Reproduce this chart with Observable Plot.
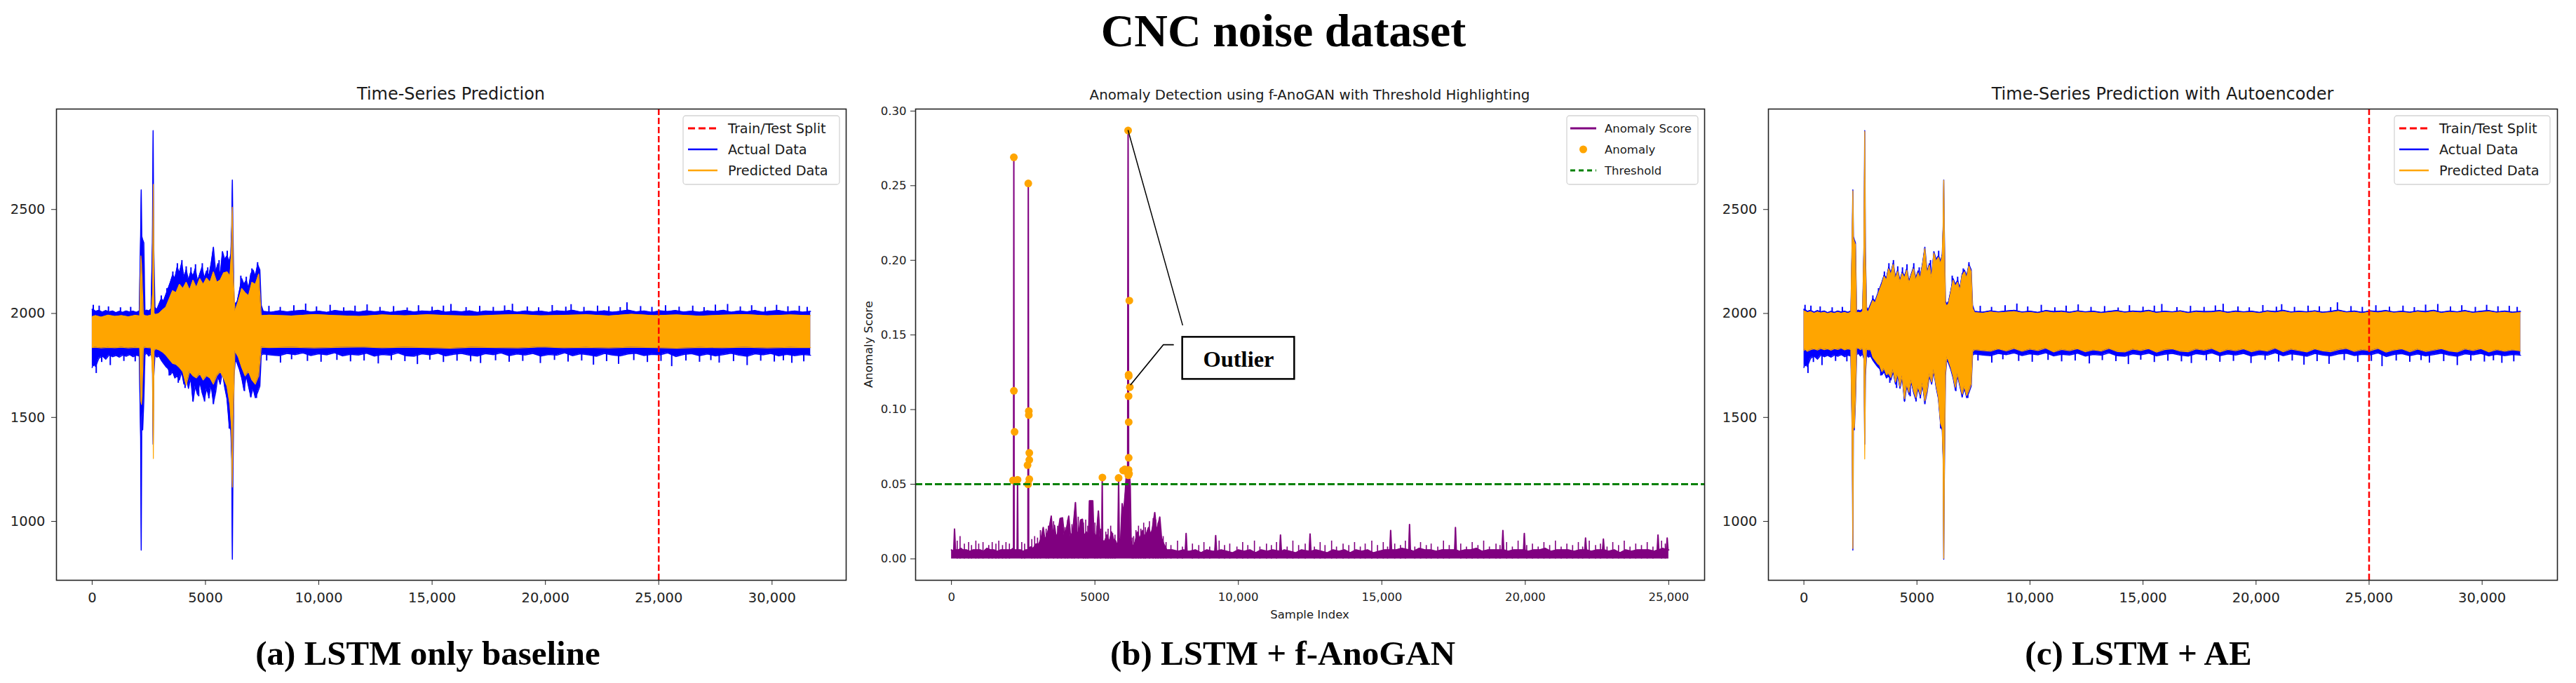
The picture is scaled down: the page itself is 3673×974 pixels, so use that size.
<!DOCTYPE html>
<html>
<head>
<meta charset="utf-8">
<script src="https://cdn.jsdelivr.net/npm/d3@7"></script>
<script src="https://cdn.jsdelivr.net/npm/@observablehq/plot@0.6"></script>
<style>
  html, body { margin: 0; padding: 0; background: #fff; }
  body { width: 3673px; height: 974px; overflow: hidden; position: relative; font-family: "DejaVu Sans", sans-serif; }
  svg.panel { position: absolute; top: 100px; }
  svg.overlay { position: absolute; left: 0; top: 0; pointer-events: none; }
</style>
</head>
<body>
<script>
// ---------------- DATA ----------------
// Actual data envelope (sample index, upper edge, lower edge) — panels (a) and (c)
const actX = [
  0, 60, 150, 300, 450, 600, 750, 900, 1050, 1200,
  1350, 1500, 1650, 1800, 1950, 2080, 2140, 2165, 2190, 2230,
  2280, 2330, 2400, 2500, 2600, 2660, 2690, 2720, 2770, 2850,
  2950, 3050, 3150, 3250, 3350, 3450, 3550, 3650, 3750, 3850,
  3950, 4050, 4150, 4250, 4350, 4450, 4550, 4650, 4750, 4850,
  4950, 5050, 5150, 5250, 5350, 5450, 5550, 5650, 5750, 5850,
  5950, 6050, 6120, 6160, 6186, 6210, 6260, 6320, 6400, 6500,
  6600, 6700, 6800, 6900, 7000, 7100, 7200, 7300, 7400, 7460,
  7550, 7900, 8250, 8600, 8950, 9300, 9650, 10000, 10350, 10700,
  11050, 11400, 11750, 12100, 12450, 12800, 13150, 13500, 13850, 14200,
  14550, 14900, 15250, 15600, 15950, 16300, 16650, 17000, 17350, 17700,
  18050, 18400, 18750, 19100, 19450, 19800, 20150, 20500, 20850, 21200,
  21550, 21900, 22250, 22600, 22950, 23300, 23650, 24000, 24350, 24700,
  25050, 25400, 25750, 26100, 26450, 26800, 27150, 27500, 27850, 28200,
  28550, 28900, 29250, 29600, 29950, 30300, 30650, 31000, 31350, 31700
];
const actHigh = [
  2020, 2018, 2010, 2015, 2006, 2014, 2008, 2012, 2004, 2010,
  2005, 2012, 2007, 2011, 2005, 2012, 2380, 2594, 2370, 2355,
  2340, 2010, 2016, 2012, 2022, 2340, 2879, 2300, 2030, 2018,
  2045, 2071, 2060, 2090, 2120, 2150, 2185, 2170, 2223, 2195,
  2243, 2175, 2210, 2160, 2200, 2180, 2216, 2155, 2190, 2223,
  2170, 2205, 2180, 2240, 2319, 2200, 2240, 2180, 2298, 2260,
  2278, 2250, 2285, 2420, 2642, 2400, 2060, 2045, 2058, 2110,
  2168, 2140, 2160, 2120, 2190, 2209, 2180, 2236, 2210, 2040,
  2010, 2006, 2013, 2008, 2012, 2015, 2007, 2011, 2005, 2014,
  2009, 2012, 2006, 2013, 2008, 2011, 2005, 2010, 2014, 2007,
  2012, 2009, 2015, 2006, 2011, 2008, 2013, 2005, 2012, 2009,
  2010, 2014, 2006, 2012, 2008, 2011, 2005, 2013, 2009, 2015,
  2007, 2011, 2008, 2013, 2006, 2010, 2016, 2008, 2012, 2005,
  2013, 2009, 2014, 2007, 2011, 2006, 2013, 2009, 2015, 2006,
  2012, 2008, 2014, 2006, 2011, 2014, 2007, 2012, 2006, 2010
];
const actLow = [
  1740, 1760, 1745, 1785, 1795, 1780, 1800, 1792, 1798, 1790,
  1800, 1794, 1802, 1792, 1799, 1795, 1400, 862, 1520, 1440,
  1580, 1800, 1810, 1795, 1805, 1780, 1371, 1700, 1800, 1790,
  1795, 1775, 1760, 1745, 1735, 1705, 1720, 1690, 1700, 1680,
  1720, 1660, 1700, 1640, 1690, 1577, 1650, 1610, 1670, 1620,
  1585, 1640, 1600, 1655, 1570, 1620, 1700, 1660, 1720, 1645,
  1590, 1460, 1439, 1300, 818, 1200, 1700, 1780, 1760, 1730,
  1690, 1632, 1700, 1650, 1600, 1640, 1595, 1620, 1650, 1800,
  1805, 1800, 1797, 1808, 1802, 1810, 1798, 1806, 1801, 1811,
  1796, 1804, 1800, 1809, 1795, 1803, 1799, 1810, 1797, 1794,
  1806, 1801, 1809, 1796, 1804, 1808, 1799, 1795, 1807, 1802,
  1810, 1797, 1805, 1800, 1808, 1795, 1803, 1799, 1811, 1797,
  1806, 1801, 1794, 1808, 1800, 1796, 1805, 1809, 1798, 1804,
  1801, 1810, 1793, 1803, 1807, 1797, 1805, 1796, 1802, 1809,
  1799, 1794, 1806, 1801, 1808, 1796, 1804, 1797, 1803, 1799
];
// Thin upward spikes and downward dips of the actual data
const upX = [
  50, 310, 720, 1250, 1700, 3050, 3300, 3560, 3760, 3960,
  4150, 4360, 4560, 4860, 5100, 5600, 5960, 6560, 6800, 7050,
  7300, 7800, 8300, 8900, 9420, 9900, 10500, 11100, 11600, 12132,
  12700, 13300, 13900, 14400, 15000, 15500, 15831, 16500, 17100, 17700,
  18200, 18544, 19200, 19700, 20300, 20900, 21133, 21700, 22300, 22800,
  23300, 23599, 24200, 24700, 25300, 25900, 26500, 27000, 27500, 28038,
  28600, 29100, 29700, 30200, 30700, 31200, 31550
];
const upY = [
  2040, 2036, 2032, 2028, 2030, 2085, 2120, 2200, 2240, 2255,
  2225, 2220, 2235, 2240, 2220, 2255, 2300, 2180, 2175, 2215,
  2245, 2035, 2030, 2038, 2046, 2032, 2040, 2028, 2036, 2042,
  2030, 2034, 2027, 2038, 2031, 2036, 2044, 2029, 2035, 2030,
  2037, 2045, 2032, 2028, 2039, 2031, 2043, 2030, 2036, 2033,
  2029, 2052, 2034, 2030, 2038, 2031, 2036, 2029, 2041, 2044,
  2032, 2038, 2030, 2040, 2033, 2035, 2030
];
const dnX = [
  60, 180, 420, 800, 1400, 1900, 3400, 3800, 4100, 4450,
  4700, 4960, 5150, 5350, 5600, 6050, 6720, 7000, 7250, 7700,
  8310, 8800, 9500, 10100, 10800, 11400, 12000, 12625, 13200, 13800,
  14352, 14900, 15500, 16100, 16700, 17138, 17800, 18400, 19000, 19777,
  20400, 21000, 21600, 22120, 22700, 23229, 23900, 24500, 25100, 25572,
  26200, 26800, 27300, 27668, 28300, 28901, 29500, 30100, 30500, 30873,
  31400
];
const dnY = [
  1745, 1712, 1765, 1750, 1770, 1768, 1700, 1665, 1640, 1577,
  1600, 1575, 1590, 1562, 1680, 1445, 1625, 1595, 1592, 1772,
  1762, 1778, 1770, 1766, 1775, 1768, 1772, 1758, 1774, 1769,
  1755, 1776, 1765, 1771, 1768, 1760, 1773, 1766, 1770, 1760,
  1775, 1767, 1772, 1752, 1769, 1756, 1774, 1765, 1770, 1745,
  1772, 1766, 1774, 1762, 1769, 1750, 1771, 1767, 1773, 1761,
  1768
];

// LSTM predicted envelope — panel (a)
const predX = [
  0, 150, 400, 700, 1000, 1300, 1600, 1900, 2100, 2150,
  2175, 2200, 2260, 2320, 2450, 2600, 2670, 2700, 2730, 2800,
  2950, 3100, 3250, 3400, 3550, 3700, 3850, 4000, 4150, 4300,
  4450, 4600, 4750, 4900, 5050, 5200, 5350, 5500, 5650, 5800,
  5950, 6080, 6150, 6186, 6220, 6300, 6450, 6600, 6750, 6900,
  7050, 7200, 7350, 7460,
  7800, 8800, 9800, 10800, 11800, 12800, 13800, 14800, 15800, 16800,
  17800, 18800, 19800, 20800, 21800, 22800, 23800, 24800, 25800, 26800,
  27800, 28800, 29800, 30800, 31700
];
const predHigh = [
  1985, 1990, 1982, 1992, 1986, 1990, 1984, 1991, 1988, 2277,
  2240, 2181, 1995, 1990, 1988, 1992, 2100, 2621, 2000, 1995,
  2000, 2016, 2030, 2070, 2110, 2100, 2140, 2120, 2150, 2113,
  2160, 2125, 2168, 2140, 2170, 2150, 2200, 2150, 2160, 2195,
  2200, 2180, 2300, 2511, 2200, 2010, 2060, 2120, 2100, 2085,
  2150, 2140, 2190, 1990,
  1992, 1988, 1995, 1990, 1986, 1993, 1989, 1994, 1990, 1987,
  1992, 1995, 1989, 1991, 1994, 1988, 1996, 1990, 1993, 1987,
  1992, 1995, 1989, 1993, 1990
];
const predLow = [
  1836, 1838, 1834, 1837, 1835, 1838, 1834, 1837, 1836, 1580,
  1563, 1600, 1830, 1838, 1836, 1834, 1700, 1302, 1820, 1830,
  1825, 1815, 1800, 1780, 1760, 1755, 1740, 1720, 1655, 1720,
  1700, 1690, 1710, 1680, 1700, 1690, 1660, 1700, 1720, 1690,
  1650, 1560, 1450, 1165, 1500, 1820, 1790, 1740, 1700, 1720,
  1680, 1660, 1700, 1838,
  1836, 1838, 1834, 1837, 1839, 1835, 1838, 1836, 1833, 1838,
  1836, 1834, 1839, 1835, 1837, 1834, 1838, 1836, 1833, 1837,
  1835, 1838, 1834, 1837, 1836
];

// Autoencoder predicted envelope at actX — panel (c)
const aeHigh = [
  2012, 2010, 2004, 2008, 2001, 2007, 2002, 2006, 1999, 2004,
  2000, 2006, 2001, 2005, 2000, 2006, 2370, 2590, 2360, 2345,
  2330, 2002, 2006, 2003, 2010, 2330, 2876, 2290, 2015, 2008,
  2035, 2062, 2050, 2082, 2112, 2140, 2178, 2160, 2215, 2185,
  2236, 2165, 2202, 2150, 2192, 2170, 2208, 2145, 2182, 2215,
  2160, 2196, 2170, 2232, 2312, 2190, 2232, 2170, 2290, 2250,
  2270, 2240, 2277, 2410, 2640, 2390, 2050, 2035, 2048, 2100,
  2160, 2130, 2150, 2110, 2182, 2200, 2170, 2228, 2200, 2025,
  2004, 2001, 2007, 2003, 2006, 2009, 2002, 2005, 2000, 2008,
  2003, 2006, 2001, 2007, 2003, 2005, 2000, 2004, 2008, 2002,
  2006, 2003, 2009, 2001, 2005, 2003, 2007, 2000, 2006, 2003,
  2004, 2008, 2001, 2006, 2003, 2005, 2000, 2007, 2003, 2009,
  2002, 2005, 2003, 2007, 2001, 2004, 2010, 2003, 2006, 2000,
  2007, 2003, 2008, 2002, 2005, 2001, 2007, 2003, 2009, 2001,
  2006, 2003, 2008, 2001, 2005, 2008, 2002, 2006, 2001, 2004
];
const aeLow = [
  1822, 1828, 1818, 1826, 1830, 1824, 1832, 1826, 1830, 1823,
  1831, 1827, 1833, 1825, 1830, 1826, 1410, 870, 1530, 1450,
  1590, 1830, 1834, 1826, 1832, 1790, 1300, 1710, 1828, 1825,
  1826, 1790, 1775, 1760, 1750, 1720, 1735, 1705, 1712, 1692,
  1730, 1670, 1710, 1650, 1700, 1590, 1660, 1620, 1680, 1630,
  1595, 1650, 1610, 1665, 1580, 1630, 1710, 1670, 1730, 1655,
  1600, 1470, 1450, 1310, 822, 1210, 1710, 1792, 1772, 1740,
  1700, 1645, 1710, 1660, 1612, 1650, 1605, 1630, 1660, 1815,
  1826, 1822, 1818, 1830, 1820, 1832, 1818, 1828, 1822, 1833,
  1815, 1827, 1821, 1831, 1816, 1825, 1819, 1832, 1817, 1815,
  1828, 1822, 1831, 1814, 1826, 1830, 1818, 1816, 1829, 1823,
  1832, 1815, 1827, 1821, 1830, 1816, 1825, 1819, 1833, 1816,
  1828, 1822, 1815, 1830, 1820, 1816, 1826, 1832, 1817, 1826,
  1821, 1832, 1814, 1824, 1830, 1816, 1828, 1817, 1823, 1831,
  1819, 1815, 1829, 1822, 1831, 1815, 1826, 1818, 1825, 1820
];
const splitAt = [25000];

// Anomaly score (panel b): filled series
const scoreX = [
  0, 80, 107, 140, 250, 330, 400, 520, 640, 760,
  880, 1000, 1120, 1240, 1360, 1480, 1600, 1720, 1840, 1960,
  2080, 2150, 2165, 2174, 2185, 2250, 2290, 2304, 2318, 2400,
  2500, 2600, 2665, 2678, 2692, 2760, 2850, 2950, 3050, 3130,
  3200, 3260, 3340, 3431, 3478, 3530, 3591, 3650, 3720, 3787,
  3870, 3930, 4000, 4087, 4150, 4230, 4322, 4380, 4450, 4500,
  4565, 4620, 4700, 4780, 4810, 4925, 4960, 5050, 5121, 5180,
  5240, 5255, 5270, 5348, 5420, 5500, 5580, 5650, 5720, 5800,
  5826, 5850, 5900, 5950, 6000, 6060, 6100, 6140, 6157, 6175,
  6200, 6230, 6261, 6320, 6400, 6478, 6560, 6652, 6720, 6800,
  6870, 6950, 7000, 7087, 7150, 7261, 7320,
  7400, 7500, 7700, 7900, 8100, 8150, 8179, 8210, 8300, 8500,
  8700, 8900, 9100, 9180, 9210, 9240, 9400, 9600, 9800, 10000,
  10200, 10400, 10600, 10800, 11000, 11200, 11440, 11468, 11500, 11600,
  11800, 12000, 12200, 12470, 12499, 12530, 12700, 12900, 13100, 13300,
  13500, 13700, 13900, 14100, 14300, 14500, 14700, 14900, 15100, 15280,
  15308, 15340, 15500, 15700, 15940, 15966, 15995, 16100, 16300, 16500,
  16700, 16900, 17100, 17300, 17540, 17567, 17595, 17700, 17900, 18100,
  18300, 18500, 18700, 18900, 19190, 19220, 19250, 19400, 19600, 19800,
  19940, 19967, 19995, 20100, 20300, 20500, 20700, 20900, 21100, 21300,
  21500, 21700, 21900, 22075, 22101, 22130, 22300, 22500, 22695, 22723,
  22750, 22900, 23100, 23300, 23500, 23700, 23900, 24100, 24300, 24500,
  24600, 24626, 24655, 24800, 24920, 24946, 24975, 25000
];
const scoreY = [
  0.006, 0.005, 0.020, 0.006, 0.006, 0.007, 0.006, 0.006, 0.005, 0.006,
  0.006, 0.006, 0.005, 0.007, 0.006, 0.006, 0.005, 0.006, 0.006, 0.006,
  0.006, 0.007, 0.006, 0.269, 0.006, 0.006, 0.006, 0.053, 0.006, 0.006,
  0.005, 0.006, 0.006, 0.2515, 0.007, 0.008, 0.007, 0.010, 0.010, 0.014,
  0.021, 0.012, 0.017, 0.023, 0.0286, 0.015, 0.0224, 0.014, 0.018, 0.027,
  0.0275, 0.016, 0.019, 0.0286, 0.015, 0.018, 0.0377, 0.016, 0.019, 0.026,
  0.0265, 0.015, 0.018, 0.016, 0.0388, 0.0388, 0.017, 0.015, 0.032, 0.014,
  0.010, 0.0547, 0.012, 0.012, 0.016, 0.011, 0.018, 0.013, 0.012, 0.008,
  0.054, 0.010, 0.014, 0.037, 0.030, 0.045, 0.058, 0.055, 0.287, 0.060,
  0.057, 0.050, 0.012, 0.008, 0.011, 0.018, 0.013, 0.019, 0.015, 0.017,
  0.021, 0.016, 0.020, 0.031, 0.018, 0.028, 0.014,
  0.010, 0.006, 0.006, 0.005, 0.006, 0.005, 0.017, 0.005, 0.005, 0.006,
  0.004, 0.006, 0.005, 0.005, 0.0156, 0.005, 0.006, 0.005, 0.004, 0.006,
  0.005, 0.006, 0.004, 0.006, 0.005, 0.006, 0.005, 0.016, 0.005, 0.006,
  0.005, 0.004, 0.006, 0.005, 0.0167, 0.005, 0.006, 0.005, 0.004, 0.006,
  0.005, 0.006, 0.004, 0.006, 0.005, 0.006, 0.004, 0.005, 0.006, 0.006,
  0.019, 0.006, 0.006, 0.007, 0.006, 0.023, 0.006, 0.005, 0.007, 0.006,
  0.006, 0.005, 0.006, 0.006, 0.006, 0.021, 0.006, 0.005, 0.006, 0.006,
  0.007, 0.005, 0.006, 0.006, 0.006, 0.019, 0.006, 0.005, 0.006, 0.006,
  0.006, 0.017, 0.006, 0.005, 0.006, 0.006, 0.007, 0.005, 0.006, 0.006,
  0.006, 0.005, 0.006, 0.006, 0.014, 0.006, 0.005, 0.006, 0.006, 0.0133,
  0.006, 0.005, 0.006, 0.004, 0.006, 0.005, 0.006, 0.006, 0.006, 0.005,
  0.006, 0.016, 0.006, 0.007, 0.006, 0.014, 0.006, 0.006
];
// Thin teeth of the anomaly score
const teethX = [
  200, 300, 450, 600, 700, 850, 950, 1100, 1300, 1420,
  1550, 1650, 1780, 1900, 2020, 2450, 2550, 2800, 2900, 3000,
  3100, 3300, 3380, 3560, 3700, 3830, 3960, 4050, 4200, 4280,
  4420, 4600, 4680, 4750, 5000, 5080, 5200, 5380, 5460, 5550,
  5620, 5700, 6300, 6350, 6430, 6520, 6600, 6700, 6760, 6900,
  7030, 7120, 7200, 7300, 7380, 7480, 7650, 7880, 8050, 8400,
  8620, 8800, 9000, 9330, 9520, 9700, 9950, 10150, 10330, 10560,
  10750, 10980, 11150, 11330, 11700, 11900, 12100, 12330, 12650, 12850,
  13020, 13250, 13420, 13650, 13850, 14050, 14250, 14420, 14650, 14850,
  15050, 15200, 15450, 15650, 15820, 16150, 16350, 16550, 16720, 16950,
  17150, 17350, 17750, 17950, 18150, 18350, 18550, 18750, 18980, 19120,
  19350, 19550, 19750, 20050, 20250, 20450, 20650, 20850, 21050, 21250,
  21450, 21650, 21850, 22000, 22230, 22450, 22620, 22850, 23050, 23250,
  23450, 23650, 23850, 24050, 24250, 24450, 24750, 24880
];
const teethY = [
  0.012, 0.015, 0.010, 0.011, 0.009, 0.012, 0.010, 0.011, 0.009, 0.011,
  0.010, 0.012, 0.009, 0.011, 0.010, 0.011, 0.010, 0.013, 0.015, 0.014,
  0.019, 0.020, 0.022, 0.025, 0.022, 0.024, 0.021, 0.026, 0.023, 0.025,
  0.028, 0.024, 0.026, 0.022, 0.024, 0.022, 0.020, 0.018, 0.020, 0.022,
  0.017, 0.016, 0.014, 0.015, 0.019, 0.022, 0.020, 0.024, 0.021, 0.025,
  0.027, 0.026, 0.024, 0.020, 0.015, 0.011, 0.009, 0.012, 0.008, 0.010,
  0.009, 0.011, 0.008, 0.012, 0.009, 0.010, 0.008, 0.011, 0.009, 0.012,
  0.008, 0.010, 0.009, 0.011, 0.008, 0.012, 0.009, 0.010, 0.008, 0.011,
  0.009, 0.012, 0.008, 0.010, 0.009, 0.011, 0.008, 0.010, 0.012, 0.009,
  0.011, 0.008, 0.010, 0.009, 0.012, 0.008, 0.011, 0.009, 0.010, 0.008,
  0.012, 0.009, 0.010, 0.008, 0.011, 0.009, 0.012, 0.008, 0.010, 0.009,
  0.011, 0.008, 0.012, 0.009, 0.010, 0.008, 0.011, 0.009, 0.012, 0.008,
  0.010, 0.009, 0.011, 0.008, 0.012, 0.009, 0.010, 0.008, 0.011, 0.009,
  0.012, 0.008, 0.010, 0.009, 0.011, 0.008, 0.012, 0.010
];
// Points flagged as anomalies
const anomX = [
  2174, 2176, 2200, 2148, 2304,
  2678, 2696, 2696, 2713, 2713, 2652, 2713, 2670,
  5261, 5826, 5983, 6044, 6100,
  6157, 6200, 6174, 6178, 6218, 6174, 6178, 6178, 6174, 6165, 6190
];
const anomY = [
  0.269, 0.1126, 0.0851, 0.0526, 0.0530,
  0.2515, 0.0990, 0.0963, 0.0710, 0.0663, 0.0628, 0.0534, 0.0500,
  0.0545, 0.0542, 0.0592, 0.0600, 0.0585,
  0.287, 0.173, 0.1234, 0.1224, 0.1150, 0.1090, 0.0916, 0.0677, 0.0596, 0.0560, 0.0570
];
const threshold = [0.05];

// Tick values
const tsXTicks = [0, 5000, 10000, 15000, 20000, 25000, 30000];
const tsYTicks = [1000, 1500, 2000, 2500];
const scXTicks = [0, 5000, 10000, 15000, 20000, 25000];
const scYTicks = [0, 0.05, 0.10, 0.15, 0.20, 0.25, 0.30];

// Text
const mainTitle = "CNC noise dataset";
const panelTitles = ["Time-Series Prediction", "Anomaly Detection using f-AnoGAN with Threshold Highlighting", "Time-Series Prediction with Autoencoder"];
const captions = ["(a) LSTM only baseline", "(b) LSTM + f-AnoGAN", "(c) LSTM + AE"];
const legendTs = ["Train/Test Split", "Actual Data", "Predicted Data"];
const legendSc = ["Anomaly Score", "Anomaly", "Threshold"];

// ---------------- BUILD ----------------
const actData = actX.map((x, i) => ({x, hi: actHigh[i], lo: actLow[i]}));
const predData = predX.map((x, i) => ({x, hi: predHigh[i], lo: predLow[i]}));
const aeData = actX.map((x, i) => ({x, hi: aeHigh[i], lo: aeLow[i]}));
const upData = upX.map((x, i) => ({x, y: upY[i]}));
const dnData = dnX.map((x, i) => ({x, y: dnY[i]}));
const scoreData = scoreX.map((x, i) => ({x, s: scoreY[i]}));
const teethData = teethX.map((x, i) => ({x, s: teethY[i]}));
const anomData = anomX.map((x, i) => ({x, s: anomY[i]}));

const fmtIdx = d => d >= 10000 ? d3.format(",")(d) : String(d);

function seriesPanel(pred, xDomain, frameW, left) {
  const svg = Plot.plot({
    width: 80 + frameW + 22, height: 800,
    marginLeft: 80, marginRight: 22, marginTop: 55, marginBottom: 73,
    style: {background: "transparent", fontFamily: "DejaVu Sans", fontSize: "19.5px", color: "#222", overflow: "visible"},
    x: {domain: xDomain},
    y: {domain: [717, 2983]},
    marks: [
      Plot.areaY(actData, {x: "x", y1: "lo", y2: "hi", fill: "#0000ff"}),
      Plot.line(actData, {x: "x", y: "hi", stroke: "#0000ff", strokeWidth: 1.5}),
      Plot.line(actData, {x: "x", y: "lo", stroke: "#0000ff", strokeWidth: 1.5}),
      Plot.ruleX(upData, {x: "x", y1: 1950, y2: "y", stroke: "#0000ff", strokeWidth: 2}),
      Plot.ruleX(dnData, {x: "x", y1: 1850, y2: "y", stroke: "#0000ff", strokeWidth: 2}),
      Plot.areaY(pred, {x: "x", y1: "lo", y2: "hi", fill: "#ffa500"}),
      Plot.line(pred, {x: "x", y: "hi", stroke: "#ffa500", strokeWidth: 1.2}),
      Plot.line(pred, {x: "x", y: "lo", stroke: "#ffa500", strokeWidth: 1.2}),
      Plot.ruleX(splitAt, {stroke: "#ff0000", strokeWidth: 2.5, strokeDasharray: "9,4"}),
      Plot.frame({stroke: "#222", strokeWidth: 1.6}),
      Plot.axisX({ticks: tsXTicks, tickFormat: fmtIdx, tickSize: 7, tickPadding: 11, label: null}),
      Plot.axisY({ticks: tsYTicks, tickFormat: d => String(d), tickSize: 7, tickPadding: 9, label: null})
    ]
  });
  svg.classList.add("panel");
  svg.style.left = left + "px";
  document.body.appendChild(svg);
}

seriesPanel(predData, [-1575, 33270], 1126, 0);
seriesPanel(aeData, [-1570, 33330], 1125, 2441);

// Outlier annotation (data coordinates)
const outlierBox = [{x1: 8055, x2: 11958, y1: 0.1203, y2: 0.1485}];
const outlierLabel = [{x: 10006, y: 0.1334, t: "Outlier"}];
const leader1 = [{x: 6157, y: 0.287}, {x: 8055, y: 0.1567}];
const leader2 = [{x: 7733, y: 0.1434}, {x: 7383, y: 0.1434}, {x: 6249, y: 0.1167}];

const scoreSvg = Plot.plot({
  width: 80 + 1125 + 10, height: 800,
  marginLeft: 80, marginRight: 10, marginTop: 55, marginBottom: 73,
  style: {background: "transparent", fontFamily: "DejaVu Sans", fontSize: "16.5px", color: "#222", overflow: "visible"},
  x: {domain: [-1250, 26250]},
  y: {domain: [-0.01435, 0.30135]},
  marks: [
    Plot.areaY(scoreData, {x: "x", y: "s", fill: "#800080"}),
    Plot.ruleX(teethData, {x: "x", y1: 0, y2: "s", stroke: "#800080", strokeWidth: 1.6}),
    Plot.line(scoreData, {x: "x", y: "s", stroke: "#800080", strokeWidth: 2}),
    Plot.dot(anomData, {x: "x", y: "s", r: 5.5, fill: "#ffa500"}),
    Plot.ruleY(threshold, {stroke: "#008000", strokeWidth: 3, strokeDasharray: "10,4"}),
    Plot.line(leader1, {x: "x", y: "y", stroke: "#000", strokeWidth: 1.5}),
    Plot.line(leader2, {x: "x", y: "y", stroke: "#000", strokeWidth: 1.7}),
    Plot.rect(outlierBox, {x1: "x1", x2: "x2", y1: "y1", y2: "y2", fill: "#fff", stroke: "#000", strokeWidth: 2.5}),
    Plot.text(outlierLabel, {x: "x", y: "y", text: "t", fontFamily: "Liberation Serif", fontWeight: "bold", fontSize: 32.5, fill: "#000", textAnchor: "middle", lineAnchor: "middle"}),
    Plot.frame({stroke: "#222", strokeWidth: 1.6}),
    Plot.axisX({ticks: scXTicks, tickFormat: fmtIdx, tickSize: 7, tickPadding: 11, label: null}),
    Plot.axisY({ticks: scYTicks, tickFormat: d3.format(".2f"), tickSize: 7, tickPadding: 6, label: null})
  ]
});
scoreSvg.classList.add("panel");
scoreSvg.style.left = "1225px";
document.body.appendChild(scoreSvg);

// ---------------- TEXT OVERLAY ----------------
const ov = d3.select("body").append("svg").attr("class", "overlay")
  .attr("width", 3673).attr("height", 974);

const serif = "'Liberation Serif', 'Times New Roman', serif";
const sans = "'DejaVu Sans', sans-serif";

ov.append("text").attr("x", 1830).attr("y", 66).attr("text-anchor", "middle")
  .attr("font-family", serif).attr("font-weight", "bold").attr("font-size", 66).attr("fill", "#000").text(mainTitle);

[[643, 24], [1867.5, 19.8], [3083.5, 24]].forEach(([x, fs], i) => {
  ov.append("text").attr("x", x).attr("y", 142).attr("text-anchor", "middle")
    .attr("font-family", sans).attr("font-size", fs).attr("fill", "#1a1a1a").text(panelTitles[i]);
});

[610, 1829, 3049].forEach((x, i) => {
  ov.append("text").attr("x", x).attr("y", 948).attr("text-anchor", "middle")
    .attr("font-family", serif).attr("font-weight", "bold").attr("font-size", 49).attr("fill", "#000").text(captions[i]);
});

ov.append("text").attr("x", 1867.5).attr("y", 882).attr("text-anchor", "middle")
  .attr("font-family", sans).attr("font-size", 16.5).attr("fill", "#1a1a1a").text("Sample Index");
ov.append("text").attr("transform", "translate(1244,491) rotate(-90)").attr("text-anchor", "middle")
  .attr("font-family", sans).attr("font-size", 16.5).attr("fill", "#1a1a1a").text("Anomaly Score");

function legend(x, w, sx1, sx2, tx, fs, labels, kinds) {
  const g = ov.append("g");
  g.append("rect").attr("x", x).attr("y", 165).attr("width", w).attr("height", 98).attr("rx", 4)
    .attr("fill", "#fff").attr("fill-opacity", 0.85).attr("stroke", "#d4d4d4").attr("stroke-width", 1.3);
  labels.forEach((lab, i) => {
    const cy = 183 + i * 30;
    const k = kinds[i];
    if (k.type === "dot") {
      g.append("circle").attr("cx", (sx1 + sx2) / 2).attr("cy", cy).attr("r", 5.5).attr("fill", k.color);
    } else {
      g.append("line").attr("x1", sx1).attr("x2", sx2).attr("y1", cy).attr("y2", cy)
        .attr("stroke", k.color).attr("stroke-width", k.w).attr("stroke-dasharray", k.dash || null);
    }
    g.append("text").attr("x", tx).attr("y", cy).attr("dy", "0.36em")
      .attr("font-family", sans).attr("font-size", fs).attr("fill", "#1a1a1a").text(lab);
  });
}
const tsKinds = [
  {type: "line", color: "#ff0000", w: 3, dash: "10,5"},
  {type: "line", color: "#0000ff", w: 2.5},
  {type: "line", color: "#ffa500", w: 2.5}
];
legend(974, 223, 981, 1023, 1038, 19.3, legendTs, tsKinds);
legend(3414, 222, 3421, 3463, 3478, 19.3, legendTs, tsKinds);
legend(2234, 187, 2239, 2276, 2288, 16.5, legendSc, [
  {type: "line", color: "#800080", w: 3},
  {type: "dot", color: "#ffa500"},
  {type: "line", color: "#008000", w: 3, dash: "7,5"}
]);
</script>
</body>
</html>
